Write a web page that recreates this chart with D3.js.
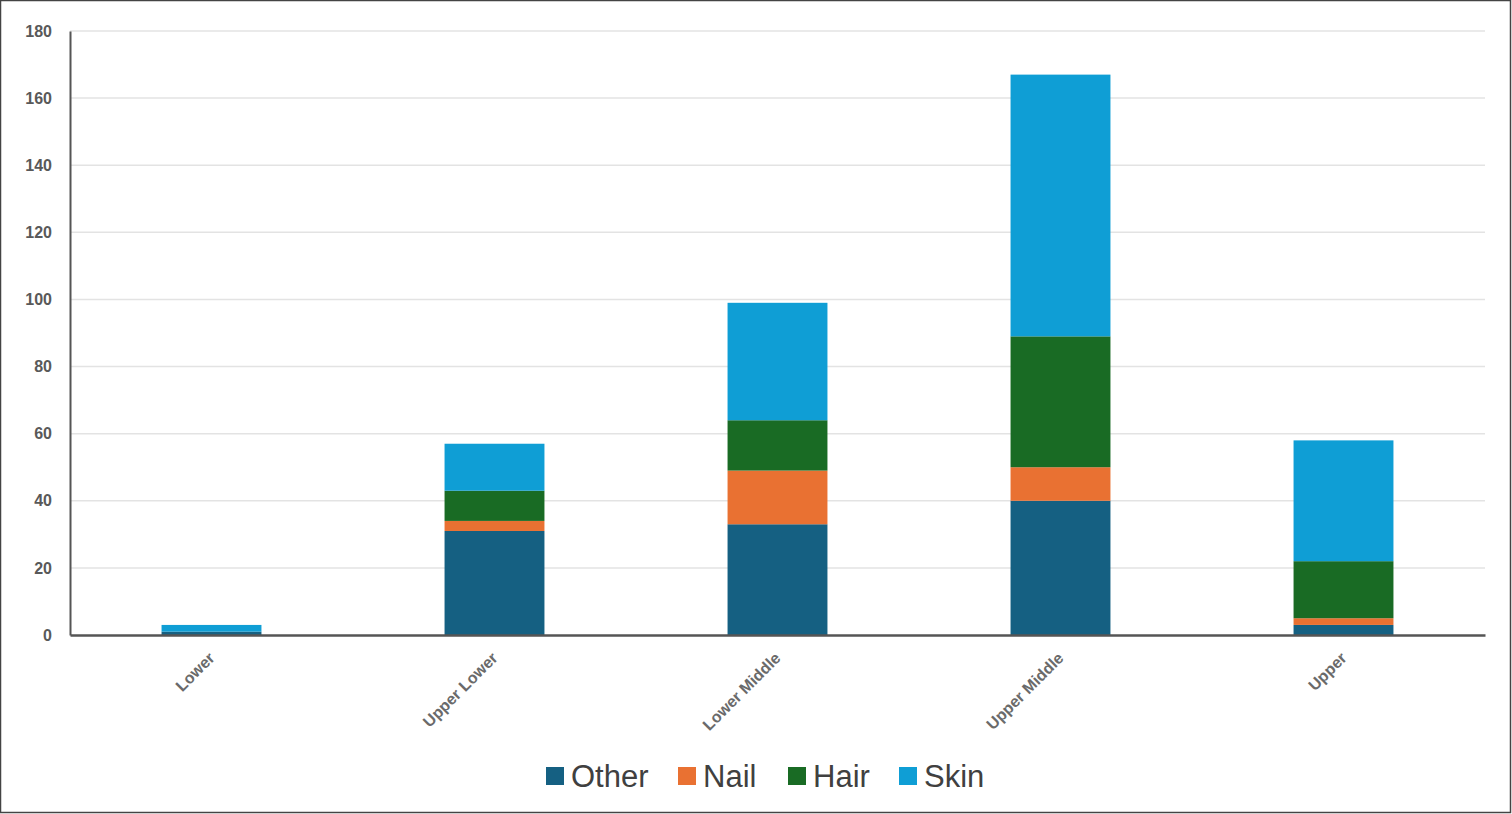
<!DOCTYPE html>
<html>
<head>
<meta charset="utf-8">
<script src="https://cdn.jsdelivr.net/npm/d3@7"></script>
<style>
  body { margin: 0; background: #fff; }
  svg { display: block; }
</style>
</head>
<body>
<div class="chart"></div>
<script>
var categories = ["Lower", "Upper Lower", "Lower Middle", "Upper Middle", "Upper"];
var seriesNames = ["Other", "Nail", "Hair", "Skin"];
var other = [1, 31, 33, 40, 3];
var nail = [0, 3, 16, 10, 2];
var hair = [0, 9, 15, 39, 17];
var skin = [2, 14, 35, 78, 36];
var yTicks = [0, 20, 40, 60, 80, 100, 120, 140, 160, 180];
var colors = ["#156082", "#E97132", "#196B24", "#0F9ED5"];

var width = 1512, height = 814;
var margin = { left: 70, right: 27, top: 31, bottom: 179 };

var rows = categories.map(function (c, i) {
	return { cat: c, Other: other[i], Nail: nail[i], Hair: hair[i], Skin: skin[i] };
});
var stacked = d3.stack().keys(seriesNames)(rows);

var svg = d3.select(".chart").append("svg")
	.attr("width", width)
	.attr("height", height);

// frame
svg.append("rect")
	.attr("x", 0.5).attr("y", 0.5)
	.attr("width", width - 2).attr("height", height - 2)
	.attr("fill", "none").attr("stroke", "#444").attr("stroke-width", 1.5);

var x = d3.scaleBand()
	.domain(categories)
	.range([margin.left, width - margin.right])
	.paddingInner(0.647)
	.paddingOuter(0.3235);

var y = d3.scaleLinear()
	.domain([0, 180])
	.range([height - margin.bottom, margin.top]);

// grid
svg.append("g").selectAll("line")
	.data(yTicks.slice(1))
	.enter().append("line")
	.attr("x1", margin.left).attr("x2", width - margin.right)
	.attr("y1", function (d) { return y(d); })
	.attr("y2", function (d) { return y(d); })
	.attr("stroke", "#e3e3e3").attr("stroke-width", 1.5);

// bars
svg.append("g").selectAll("g")
	.data(stacked)
	.enter().append("g")
	.attr("fill", function (d, i) { return colors[i]; })
	.selectAll("rect")
	.data(function (d) { return d; })
	.enter().append("rect")
	.attr("x", function (d) { return x(d.data.cat); })
	.attr("width", x.bandwidth())
	.attr("y", function (d) { return y(d[1]); })
	.attr("height", function (d) { return y(d[0]) - y(d[1]); });

// y axis
var yAxis = svg.append("g")
	.attr("transform", "translate(" + margin.left + ",0)")
	.call(d3.axisLeft(y).tickValues(yTicks).tickSize(0).tickPadding(18));
yAxis.select(".domain").attr("stroke", "#555").attr("stroke-width", 2);
yAxis.selectAll("text")
	.attr("font-family", "Liberation Sans, Arial, sans-serif")
	.attr("font-size", 16)
	.attr("font-weight", "bold")
	.attr("fill", "#595959");

// x axis
var xAxis = svg.append("g")
	.attr("transform", "translate(0," + y(0) + ")")
	.call(d3.axisBottom(x).tickSize(0).tickSizeOuter(0));
xAxis.select(".domain").attr("stroke", "#555").attr("stroke-width", 2.5);
xAxis.selectAll("text")
	.attr("font-family", "Liberation Sans, Arial, sans-serif")
	.attr("font-size", 16)
	.attr("font-weight", "bold")
	.attr("fill", "#6a6a6a")
	.attr("text-anchor", "end")
	.attr("dy", 0)
	.attr("transform", "translate(2,22) rotate(-45)");

// legend
var legendX = [546, 678, 788, 899];
var legend = svg.append("g").selectAll("g")
	.data(seriesNames)
	.enter().append("g")
	.attr("transform", function (d, i) { return "translate(" + legendX[i] + ",767)"; });
legend.append("rect")
	.attr("width", 18).attr("height", 18)
	.attr("fill", function (d, i) { return colors[i]; });
legend.append("text")
	.attr("x", 25).attr("y", 20)
	.text(function (d) { return d; })
	.attr("font-family", "Liberation Sans, Arial, sans-serif")
	.attr("font-size", 31)
	.attr("fill", "#404040");
</script>
</body>
</html>
